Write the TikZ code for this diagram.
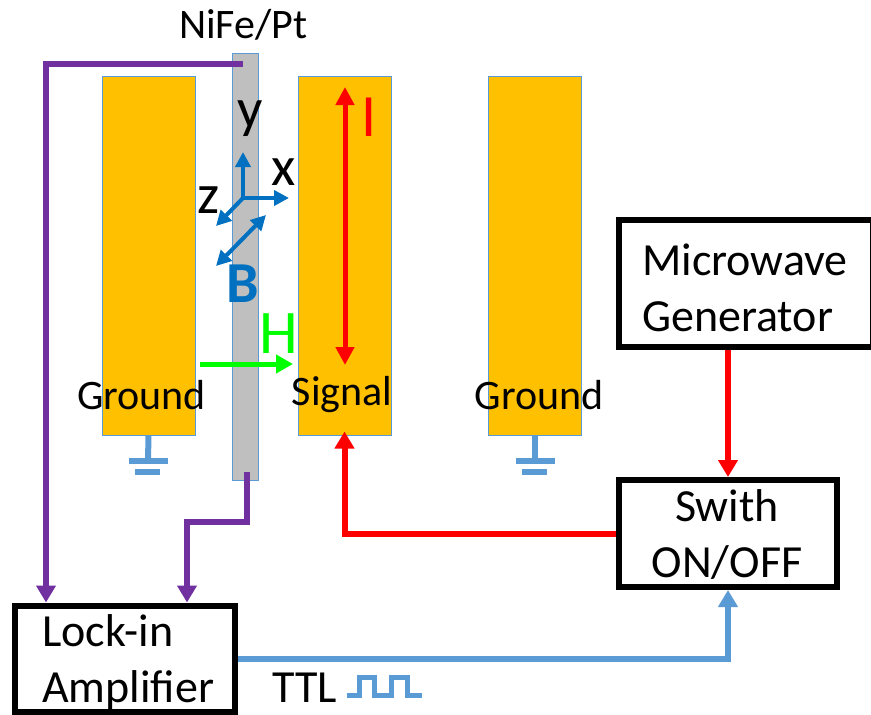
\documentclass[tikz,border=0pt]{standalone}
\usepackage{fontspec}
\setmainfont{Carlito}
\usetikzlibrary{arrows.meta}
\definecolor{padgold}{HTML}{FFC000}
\definecolor{padedge}{HTML}{5B9BD5}
\definecolor{stripgray}{HTML}{BFBFBF}
\definecolor{wirepurple}{HTML}{7030A0}
\definecolor{wireblue}{HTML}{5B9BD5}
\definecolor{axisblue}{HTML}{0070C0}
\tikzset{
  padnode/.style={draw=padedge, fill=padgold, line width=1pt, minimum width=93pt, minimum height=359pt, inner sep=0pt},
  boxnode/.style={draw=black, fill=white, line width=6pt, inner sep=0pt},
  lbl/.style={inner sep=0pt, font=\fontsize{42}{49}\selectfont},
  biglbl/.style={inner sep=0pt, align=left, font=\fontsize{46}{56}\selectfont},
  axislbl/.style={inner sep=0pt, font=\fontsize{56}{60}\selectfont},
  wire/.style={line width=6pt, -{Triangle[length=17pt, width=19pt]}},
  axisarrow/.style={draw=axisblue, line width=4pt, -{Triangle[length=15pt, width=15pt]}},
  gndbar/.style={draw=wireblue, line width=6pt},
}
\begin{document}
\begin{tikzpicture}[x=1pt, y=-1pt]
\useasboundingbox (0,0) rectangle (871,715);
\clip (0,0) rectangle (871,715);
\node[padnode] (gndl) at (148.5,255.5) {};
\node[padnode] (signal) at (344.5,255.5) {};
\node[padnode] (gndr) at (535,255.5) {};
\node[draw=padedge, fill=stripgray, line width=1pt, minimum width=26pt, minimum height=427pt, inner sep=0pt] (strip) at (245,266.5) {};
\node[lbl, anchor=center] (nifept) at (243.5,25) {NiFe/Pt};
\node[lbl] (gndltext) at (141.5,395) {Ground};
\node[lbl] (signaltext) at (342,395) {Signal};
\node[lbl] (gndrtext) at (539,395) {Ground};
\draw[gndbar] (gndl.south) -- (148,461);
\draw[gndbar] (129,461) -- (168,461);
\draw[gndbar] (135,472) -- (160,472);
\draw[gndbar] (gndr.south) -- (535,461);
\draw[gndbar] (516,461) -- (555,461);
\draw[gndbar] (522,472) -- (547,472);
\node[boxnode, minimum width=254pt, minimum height=127pt] (mwgen) at (746,283.5) {};
\node[boxnode, minimum width=218pt, minimum height=107pt] (switch) at (728,533.5) {};
\node[boxnode, minimum width=220pt, minimum height=106pt] (lockin) at (125,658.5) {};
\node[biglbl, anchor=west] (mwtext) at (642,288) {Microwave\\Generator};
\node[biglbl, align=center] (switchtext) at (727,535) {Swith\\ON/OFF};
\node[biglbl, anchor=west] (lockintext) at (42,662.5) {Lock-in\\Amplifier};
\coordinate (stripa) at (243,64);
\coordinate (stripb) at (247,472);
\coordinate (lockina) at (lockin.north -| 46,0);
\coordinate (lockinb) at (lockin.north -| 187,0);
\draw[wire, wirepurple] (stripa) -| (lockina);
\draw[wire, wirepurple] (stripb) -- (247,522) -| (lockinb);
\draw[wire, red] (switch.north |- mwgen.south) -- (switch.north);
\draw[wire, red, shorten >=-4pt] (switch.west) -| (signal.south);
\draw[wire, wireblue] (lockin.east) -| (switch.south);
\draw[wireblue, line width=5pt] (347,695) -- (359,695) -- (359,677) -- (374,677) -- (374,695) -- (391,695) -- (391,677) -- (407,677) -- (407,695) -- (422,695);
\node[biglbl, anchor=west] (ttltext) at (272,688) {TTL};
\coordinate (origin) at (243,198);
\coordinate (ytip) at (243,152);
\coordinate (xtip) at (289,198);
\coordinate (ztip) at (216,226);
\coordinate (bend) at (216,266);
\coordinate (btip) at (266,215);
\draw[axisarrow] (origin) -- (ytip);
\draw[axisarrow] (origin) -- (xtip);
\draw[axisarrow] (origin) -- (ztip);
\draw[axisarrow, {Triangle[length=15pt, width=15pt]}-{Triangle[length=15pt, width=15pt]}] (bend) -- (btip);
\node[axislbl] (ylabel) at (250,119) {y};
\node[axislbl] (xlabel) at (284,172) {x};
\node[axislbl] (zlabel) at (209,200) {z};
\node[inner sep=0pt, font=\fontsize{58}{60}\selectfont\bfseries, text=axisblue] (blabel) at (243,284) {B};
\node[inner sep=0pt, font=\fontsize{62}{60}\selectfont, text=green] (hlabel) at (279,334) {H};
\coordinate (hstart) at (200,364);
\coordinate (hend) at (293,364);
\draw[line width=5pt, green, -{Triangle[length=17pt, width=18pt]}] (hstart) -- (hend);
\coordinate (itop) at (345,87);
\coordinate (ibottom) at (345,365);
\draw[line width=5pt, red, {Triangle[length=18pt, width=18pt]}-{Triangle[length=18pt, width=18pt]}] (ibottom) -- (itop);
\node[inner sep=0pt, font=\fontsize{60}{60}\selectfont, text=red] (ilabel) at (369,117) {I};
\end{tikzpicture}
\end{document}
